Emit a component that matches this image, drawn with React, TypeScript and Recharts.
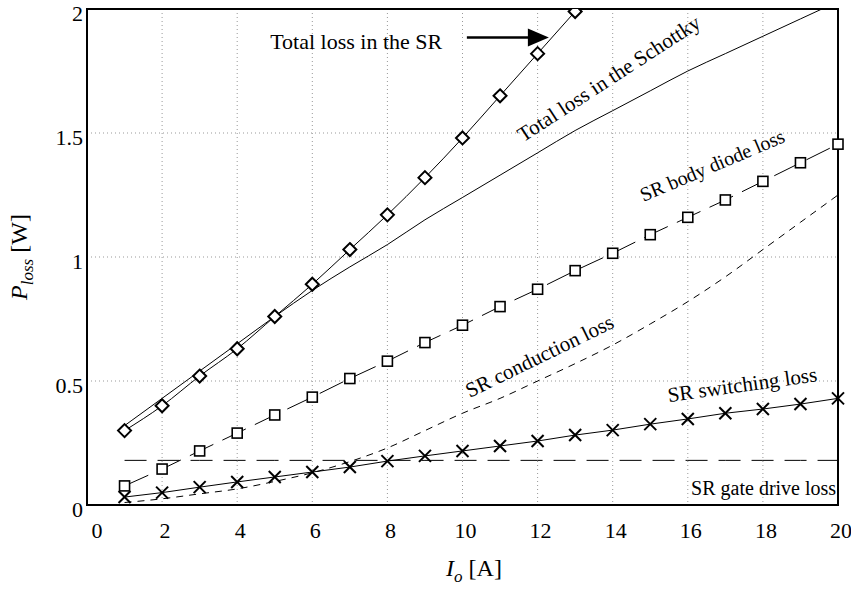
import React from 'react'
import { LineChart, Line, XAxis, YAxis, CartesianGrid, ReferenceArea, ReferenceDot, Label } from 'recharts'

const FONT = "'Liberation Serif', 'Times New Roman', serif"

// output current I_o [A]
const currents = [1, 2, 3, 4, 5, 6, 7, 8, 9, 10, 11, 12, 13, 14, 15, 16, 17, 18, 19, 20]
const xTicks = [0, 2, 4, 6, 8, 10, 12, 14, 16, 18, 20]
const yTicks = [0, 0.5, 1, 1.5, 2]

// losses [W]
const srTotal = [0.30, 0.40, 0.52, 0.63, 0.76, 0.89, 1.03, 1.17, 1.32, 1.48, 1.65, 1.82, 1.99]
const schottkyTotal = [0.32, 0.43, 0.54, 0.65, 0.76, 0.865, 0.96, 1.05, 1.15, 1.24, 1.33, 1.42, 1.51, 1.59, 1.67, 1.75, 1.82, 1.89, 1.96, 2.03]
const bodyDiode = [0.077, 0.145, 0.218, 0.29, 0.363, 0.435, 0.51, 0.58, 0.655, 0.725, 0.8, 0.87, 0.945, 1.015, 1.09, 1.16, 1.23, 1.305, 1.38, 1.455]
const conduction = [0.01, 0.025, 0.045, 0.065, 0.095, 0.13, 0.175, 0.23, 0.3, 0.37, 0.43, 0.5, 0.57, 0.645, 0.73, 0.82, 0.92, 1.03, 1.14, 1.25]
const switching = [0.032, 0.05, 0.072, 0.093, 0.113, 0.133, 0.153, 0.177, 0.198, 0.218, 0.238, 0.258, 0.282, 0.302, 0.326, 0.347, 0.37, 0.387, 0.407, 0.43]
const gateDrive = [0.18, 0.18, 0.18, 0.18, 0.18, 0.18, 0.18, 0.18, 0.18, 0.18, 0.18, 0.18, 0.18, 0.18, 0.18, 0.18, 0.18, 0.18, 0.18, 0.18]

const data = currents.map((x, i) => ({
  x,
  srTotal: srTotal[i] ?? null,
  schottky: schottkyTotal[i],
  bodyDiode: bodyDiode[i],
  conduction: conduction[i],
  switching: switching[i],
  gateDrive: gateDrive[i],
}))

const Diamond = (props: any) => {
  const { cx, cy } = props
  if (cx == null || cy == null) return null
  const s = 6.5
  return (
    <polygon
      points={`${cx},${cy - s} ${cx + s},${cy} ${cx},${cy + s} ${cx - s},${cy}`}
      fill="#fff"
      stroke="#000"
      strokeWidth={2}
    />
  )
}

const Square = (props: any) => {
  const { cx, cy } = props
  if (cx == null || cy == null) return null
  return <rect x={cx - 5} y={cy - 5} width={10} height={10} fill="#fff" stroke="#000" strokeWidth={1.6} />
}

const Cross = (props: any) => {
  const { cx, cy } = props
  if (cx == null || cy == null) return null
  const s = 6
  return (
    <g stroke="#000" strokeWidth={2}>
      <line x1={cx - s} y1={cy - s} x2={cx + s} y2={cy + s} />
      <line x1={cx - s} y1={cy + s} x2={cx + s} y2={cy - s} />
    </g>
  )
}

const XTick = (props: any) => {
  const { x, y, payload } = props
  const shift = payload.value === 0 ? 10 : 3
  return (
    <text x={x + shift} y={y} dy="0.71em" textAnchor="middle" style={{ fontFamily: FONT }} fontSize={22} fill="#000">
      {payload.value}
    </text>
  )
}

const YTick = (props: any) => {
  const { x, y, payload } = props
  return (
    <text x={x} y={y + 4} dy="0.355em" textAnchor="end" style={{ fontFamily: FONT }} fontSize={22} fill="#000">
      {payload.value}
    </text>
  )
}

// text annotation anchored at a data point
const note = (text: string, angle: number, size: number, anchor: string = 'middle') => (props: any) => (
  <text
    x={props.cx}
    y={props.cy}
    textAnchor={anchor}
    dominantBaseline="central"
    style={{ fontFamily: FONT }}
    fontSize={size}
    fill="#000"
    transform={`rotate(${angle} ${props.cx} ${props.cy})`}
  >
    {text}
  </text>
)

const arrow = (props: any) => {
  const { cx, cy } = props
  return (
    <g>
      <line x1={cx - 82} y1={cy} x2={cx - 18} y2={cy} stroke="#000" strokeWidth={2.5} />
      <polygon points={`${cx},${cy} ${cx - 21},${cy - 9} ${cx - 21},${cy + 9}`} fill="#000" />
    </g>
  )
}

const YTitle = (props: any) => {
  const vb = props.viewBox || {}
  const x = (vb.x ?? 0) + 27
  const y = (vb.y ?? 0) + (vb.height ?? 0) / 2
  return (
    <text x={x} y={y} textAnchor="middle" style={{ fontFamily: FONT }} fontSize={24} fill="#000" transform={`rotate(-90 ${x} ${y})`}>
      <tspan fontStyle="italic">P</tspan>
      <tspan fontStyle="italic" fontSize={17} dy={6}>loss</tspan>
      <tspan dy={-6}> [W]</tspan>
    </text>
  )
}

const XTitle = (props: any) => {
  const vb = props.viewBox || {}
  const x = (vb.x ?? 0) + 387
  const y = (vb.y ?? 0) + 71
  return (
    <text x={x} y={y} textAnchor="middle" style={{ fontFamily: FONT }} fontSize={24} fill="#000">
      <tspan fontStyle="italic">I</tspan>
      <tspan fontStyle="italic" fontSize={17} dy={6}>o</tspan>
      <tspan dy={-6}> [A]</tspan>
    </text>
  )
}

export default function App() {
  return (
    <div style={{ position: 'absolute', left: 0, top: 0, background: '#fff', fontFamily: FONT }}>
      <LineChart width={851} height={590} data={data} margin={{ top: 9, right: 13, bottom: 0, left: 0 }}>
        <CartesianGrid stroke="#999" strokeDasharray="1 3" />
        <XAxis
          dataKey="x"
          type="number"
          domain={[0, 20]}
          ticks={xTicks}
          height={85}
          tickSize={0}
          tickMargin={17}
          axisLine={{ stroke: '#000', strokeWidth: 2 }}
          tick={<XTick />}
        >
          <Label content={XTitle} />
        </XAxis>
        <YAxis
          type="number"
          domain={[0, 2]}
          ticks={yTicks}
          allowDataOverflow
          width={87}
          tickSize={0}
          tickMargin={4}
          axisLine={{ stroke: '#000', strokeWidth: 2 }}
          tick={<YTick />}
        >
          <Label content={YTitle} />
        </YAxis>
        <ReferenceArea x1={0} x2={20} y1={0} y2={2} fill="none" stroke="#000" strokeWidth={2} />

        <Line dataKey="gateDrive" stroke="#000" strokeWidth={1} strokeDasharray="22 11" dot={false} isAnimationActive={false} />
        <Line dataKey="conduction" stroke="#000" strokeWidth={1} strokeDasharray="7 6" dot={false} type="monotone" isAnimationActive={false} />
        <Line dataKey="switching" stroke="#000" strokeWidth={1} dot={<Cross />} isAnimationActive={false} />
        <Line dataKey="bodyDiode" stroke="#000" strokeWidth={1} strokeDasharray="26 10" dot={<Square />} isAnimationActive={false} />
        <Line dataKey="schottky" stroke="#000" strokeWidth={1} dot={false} type="monotone" isAnimationActive={false} />
        <Line dataKey="srTotal" stroke="#000" strokeWidth={1} dot={<Diamond />} type="monotone" isAnimationActive={false} />

        <ReferenceDot x={7.17} y={1.87} r={1} ifOverflow="visible" shape={note('Total loss in the SR', 0, 22)} />
        <ReferenceDot x={12.3} y={1.885} r={1} ifOverflow="visible" shape={arrow} />
        <ReferenceDot x={13.9} y={1.72} r={1} ifOverflow="visible" shape={note('Total loss in the Schottky', -33, 21)} />
        <ReferenceDot x={16.65} y={1.37} r={1} ifOverflow="visible" shape={note('SR body diode loss', -23, 20)} />
        <ReferenceDot x={12.05} y={0.6} r={1} ifOverflow="visible" shape={note('SR conduction loss', -26, 21)} />
        <ReferenceDot x={17.45} y={0.485} r={1} ifOverflow="visible" shape={note('SR switching loss', -8, 21)} />
        <ReferenceDot x={19.95} y={0.068} r={1} ifOverflow="visible" shape={note('SR gate drive loss', 0, 20, 'end')} />
      </LineChart>
    </div>
  )
}
